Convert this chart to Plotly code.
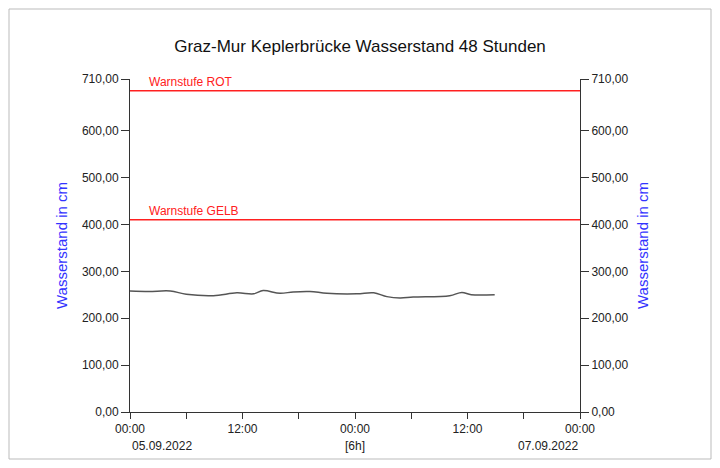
import plotly.graph_objects as go
import pandas as pd

hours = [0, 2, 4.3, 6, 8.9, 11.4, 13.2, 14.2, 16, 17.4, 19.2, 21, 24.2, 26, 27.4, 28.8, 30.2, 34.1, 35.4, 36.4, 38.9]
levels = [258, 257, 258, 251, 248, 254, 252, 259, 253, 256, 257, 253, 252, 254, 246, 243, 245, 248, 255, 250, 250]
warn_rot = 685
warn_gelb = 410
yticks = [0, 100, 200, 300, 400, 500, 600, 710]

t0 = pd.Timestamp("2022-09-05 00:00")
times = [t0 + pd.Timedelta(hours=h) for h in hours]
t_end = t0 + pd.Timedelta(hours=48)
xt = [t0 + pd.Timedelta(hours=6 * i) for i in range(9)]
xtt = ["00:00" if i % 4 == 0 else ("12:00" if i % 2 == 0 else "") for i in range(9)]
ytt = [f"{v},00" for v in yticks]

fig = go.Figure()
fig.add_trace(go.Scatter(x=times, y=levels, mode="lines", line=dict(color="#555", width=1.5, shape="spline"), showlegend=False))
fig.add_trace(go.Scatter(x=[t0, t_end], y=[warn_rot, warn_rot], mode="lines", line=dict(color="#ff2020", width=1.5), showlegend=False))
fig.add_trace(go.Scatter(x=[t0, t_end], y=[warn_gelb, warn_gelb], mode="lines", line=dict(color="#ff2020", width=1.5), showlegend=False))
fig.add_trace(go.Scatter(x=[t0], y=[0], yaxis="y2", mode="markers", marker=dict(opacity=0), showlegend=False, hoverinfo="skip"))

font = dict(family="Liberation Sans, Arial", size=12, color="#222")
fig.update_layout(
    width=704, height=452, margin=dict(l=122, r=132, t=71, b=48),
    paper_bgcolor="white", plot_bgcolor="white", font=font,
    title=dict(text="Graz-Mur Keplerbrücke Wasserstand 48 Stunden", x=0.5, y=0.93, xanchor="center",
               font=dict(size=17, color="#111")),
    xaxis=dict(range=[t0, t_end], tickvals=xt, ticktext=xtt, showgrid=False, showline=True,
               linecolor="#333", ticks="outside", ticklen=6, tickcolor="#333", zeroline=False),
    yaxis=dict(range=[0, 710], tickvals=yticks, ticktext=ytt, showgrid=False, showline=True,
               linecolor="#333", ticks="outside", ticklen=8, tickcolor="#333", zeroline=False,
               title=dict(text="Wasserstand in cm", font=dict(color="#3333ff", size=15), standoff=10)),
    yaxis2=dict(range=[0, 710], tickvals=yticks, ticktext=ytt, overlaying="y", side="right",
                showgrid=False, showline=True, linecolor="#333", ticks="outside", ticklen=8,
                tickcolor="#333", zeroline=False,
                title=dict(text="Wasserstand in cm", font=dict(color="#3333ff", size=15), standoff=10)),
    shapes=[dict(type="rect", xref="paper", yref="paper", x0=-121/450, x1=1+131/450, y0=-47/333, y1=1+70/333,
                 line=dict(color="#bbb", width=1))],
    annotations=[
        dict(text="Warnstufe ROT", x=t0 + pd.Timedelta(hours=1.8), y=warn_rot, yanchor="bottom", xanchor="left",
             showarrow=False, font=dict(color="#ff2020", size=12)),
        dict(text="Warnstufe GELB", x=t0 + pd.Timedelta(hours=1.8), y=warn_gelb, yanchor="bottom", xanchor="left",
             showarrow=False, font=dict(color="#ff2020", size=12)),
        dict(text="05.09.2022", x=0, xref="paper", y=-0.075, yref="paper", yanchor="top", showarrow=False, font=font),
        dict(text="[6h]", x=0.5, xref="paper", y=-0.075, yref="paper", yanchor="top", showarrow=False, font=font),
        dict(text="07.09.2022", x=1, xref="paper", y=-0.075, yref="paper", yanchor="top", showarrow=False, font=font),
    ],
)
fig.write_html("out.html")
